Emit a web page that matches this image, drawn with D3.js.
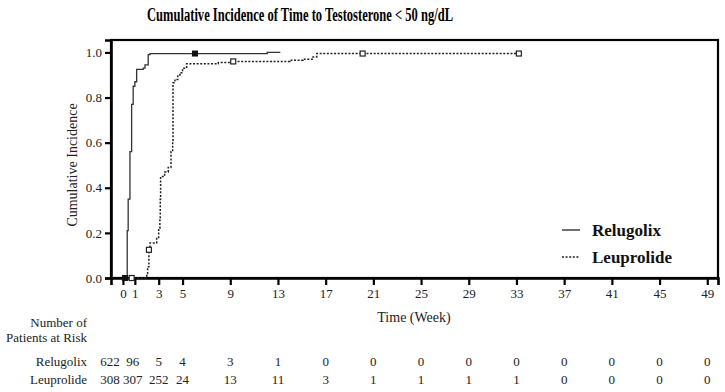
<!DOCTYPE html>
<html><head><meta charset="utf-8">
<script src="https://cdn.jsdelivr.net/npm/d3@7"></script>
<style>body{margin:0;background:#fff}svg{display:block}svg text{font-family:"Liberation Serif","Times New Roman",serif}</style>
</head><body><svg id="c" width="725" height="392"></svg>
<script>
const titleText = "Cumulative Incidence of Time to Testosterone < 50 ng/dL";
const xTicks = [0,1,3,5,9,13,17,21,25,29,33,37,41,45,49];
const yTicks = [0,0.2,0.4,0.6,0.8,1.0];
const seriesNames = ["Relugolix","Leuprolide"];
// step curves: [week, cumulative incidence]
const relugolixCurve = [[0,0],[0.36,0.21],[0.44,0.35],[0.59,0.56],[0.73,0.77],[0.86,0.85],[1.0,0.87],[1.15,0.925],[1.7,0.93],[1.85,0.945],[2.12,0.99],[2.27,0.995],[12.1,1.0],[13.2,1.0]];
const leuprolideCurve = [[0,0],[1.85,0],[2.0,0.02],[2.07,0.05],[2.18,0.125],[2.27,0.155],[2.83,0.18],[3.0,0.22],[3.1,0.26],[3.13,0.35],[3.16,0.45],[3.5,0.47],[3.8,0.49],[4.03,0.56],[4.17,0.61],[4.2,0.865],[4.36,0.88],[4.6,0.9],[4.78,0.91],[5.0,0.93],[5.34,0.95],[8.0,0.955],[9.23,0.96],[12.06,0.96],[14.0,0.965],[15.1,0.97],[15.94,0.98],[16.25,0.995],[33.2,0.995]];
const relugolixCensor = [[0.17,0],[6.04,0.995]];
const leuprolideCensor = [[0.73,0],[2.18,0.125],[9.25,0.96],[20.1,0.995],[33.2,0.995]];
const relugolixRisk = [622,96,5,4,3,1,0,0,0,0,0,0,0,0,0];
const leuprolideRisk = [308,307,252,24,13,11,3,1,1,1,1,0,0,0,0];

const svg = d3.select("#c");
const L=111, R=718, T=40, B=278;
const x = d3.scaleLinear().domain([-1,49.9]).range([L,R]);
const y = d3.scaleLinear().domain([0,1.055]).range([B,T]);
const serif = '"Liberation Serif","Times New Roman",serif';
const ff = sel => sel.style("font-family", serif);

ff(svg.append("text").attr("x",300).attr("y",21).attr("text-anchor","middle")
  .attr("font-weight","bold").attr("font-size",18)
  .attr("textLength",306).attr("lengthAdjust","spacingAndGlyphs").text(titleText));

// frame
svg.append("rect").attr("x",L).attr("y",T).attr("width",R-L).attr("height",B-T)
  .attr("fill","none").attr("stroke","#000").attr("stroke-width",2.2);

const yAxis = svg.append("g").attr("transform",`translate(${L},0)`)
  .call(d3.axisLeft(y).tickValues(yTicks).tickFormat(d3.format(".1f")).tickSize(6).tickPadding(3));
const xAxis = svg.append("g").attr("transform",`translate(0,${B})`)
  .call(d3.axisBottom(x).tickValues(xTicks).tickSize(7).tickPadding(4));
[yAxis,xAxis].forEach(g=>{
  g.attr("font-family",null);
  g.select(".domain").attr("stroke","#000").attr("stroke-width",2.6);
  g.selectAll(".tick line").attr("stroke","#000").attr("stroke-width",2.2);
  g.selectAll(".tick text").style("font-family",serif).attr("font-size",13).attr("fill","#222");
});

ff(svg.append("text").attr("transform","translate(77,165) rotate(-90)").attr("text-anchor","middle")
  .attr("font-size",14).attr("fill","#222").text("Cumulative Incidence"));
ff(svg.append("text").attr("x",414).attr("y",322).attr("text-anchor","middle")
  .attr("font-size",14).attr("fill","#222").text("Time (Week)"));

const line = d3.line().x(d=>x(d[0])).y(d=>y(d[1])).curve(d3.curveStepAfter);
svg.append("path").datum(relugolixCurve).attr("d",line).attr("fill","none")
  .attr("stroke","#333").attr("stroke-width",1.3);
svg.append("path").datum(leuprolideCurve).attr("d",line).attr("fill","none")
  .attr("stroke","#222").attr("stroke-width",1.5).attr("stroke-dasharray","2,1.6");

const sq=5;
svg.selectAll(".cr").data(relugolixCensor).join("rect")
  .attr("x",d=>x(d[0])-sq/2).attr("y",d=>y(d[1])-sq/2).attr("width",sq).attr("height",sq)
  .attr("fill","#111").attr("stroke","#111");
svg.selectAll(".cl").data(leuprolideCensor).join("rect")
  .attr("x",d=>x(d[0])-sq/2).attr("y",d=>y(d[1])-sq/2).attr("width",sq).attr("height",sq)
  .attr("fill","#fff").attr("stroke","#222").attr("stroke-width",1.2);

// legend
const leg = svg.append("g");
seriesNames.forEach((n,i)=>{
  const yy = 230 + i*27;
  leg.append("line").attr("x1",562).attr("x2",580).attr("y1",yy).attr("y2",yy)
    .attr("stroke","#222").attr("stroke-width",i?1.5:1.3).attr("stroke-dasharray",i?"2,1.6":null);
  ff(leg.append("text").attr("x",592).attr("y",yy+6).attr("font-weight","bold")
    .attr("font-size",17).attr("fill","#111").text(n));
});

// risk table
const tf = (sel)=>ff(sel).attr("font-size",13).attr("fill","#222");
tf(svg.append("text").attr("x",87).attr("y",327).attr("text-anchor","end").text("Number of"));
tf(svg.append("text").attr("x",87).attr("y",342).attr("text-anchor","end").text("Patients at Risk"));
const rowY=[366,384];
[relugolixRisk,leuprolideRisk].forEach((arr,r)=>{
  tf(svg.append("text").attr("x",87).attr("y",rowY[r]).attr("text-anchor","end").text(seriesNames[r]));
  tf(svg.append("g").selectAll("text").data(arr).join("text")
    .attr("x",(d,i)=>x(xTicks[i]) + (i===0?-13:(i===1?-2:0)))
    .attr("y",rowY[r]).attr("text-anchor","middle").text(d=>d));
});
</script></body></html>
